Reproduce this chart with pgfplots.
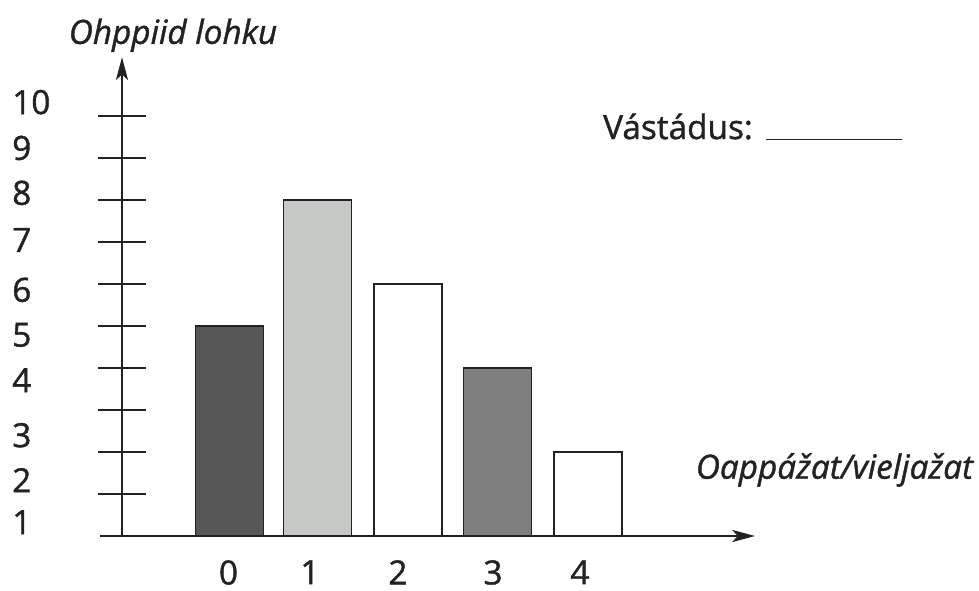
\documentclass[border=0pt]{standalone}
\usepackage{pgfplots}
\pgfplotsset{compat=1.18}
\usetikzlibrary{arrows.meta}
\usepackage{fontspec}
\setmainfont{Open Sans}[UprightFeatures={FakeBold=1.2}, ItalicFeatures={FakeBold=1.2}]
\definecolor{ink}{HTML}{222222}
\definecolor{barA}{HTML}{575757}
\definecolor{barB}{HTML}{C6C8C6}
\definecolor{barC}{HTML}{7E7E7E}
\tikzset{ynum/.style={anchor=west, inner sep=0pt, text=ink, font=\fontsize{25}{29}\selectfont}}
\begin{document}
\begin{tikzpicture}
\begin{axis}[
  x=67.125pt, y=31.5pt,
  xmin=-0.246, xmax=7.073, ymin=0, ymax=11.4,
  enlargelimits=false,
  axis lines=middle,
  axis line style={line width=2pt, draw=ink, -{Stealth[length=17pt,width=9pt,inset=4pt]}},
  clip=false,
  font=\fontsize{25}{29}\selectfont,
  xtick={1.19,2.10,3.083,4.145,5.117},
  xticklabels={0,1,2,3,4},
  x tick style={draw=none},
  xticklabel style={text=ink, inner sep=0pt, text depth=0pt, yshift=0pt, font=\fontsize{25}{29}\selectfont},
  ytick={1,2,3,4,5,6,7,8,9,10},
  yticklabels={},
  y tick style={line width=1.6pt, draw=ink},
  major tick length=36pt,
  tick align=center,
  xlabel={\itshape Oappážat/vieljažat},
  ylabel={\itshape Ohppiid lohku},
  xlabel style={at={(axis description cs:1.1213,0.138)}, anchor=center, text=ink, font=\fontsize{25}{29}\selectfont},
  ylabel style={at={(axis description cs:0.1115,1.046)}, anchor=center, rotate=0, text=ink, font=\fontsize{25}{29}\selectfont},
]
\addplot[ybar, bar width=51pt, bar shift=0pt, fill=barA, draw=ink, line width=1.2pt] coordinates {(1.201,5)};
\addplot[ybar, bar width=51pt, bar shift=0pt, fill=barB, draw=ink, line width=1.2pt] coordinates {(2.184,8)};
\addplot[ybar, bar width=51pt, bar shift=0pt, fill=white, draw=ink, line width=1.2pt] coordinates {(3.196,6)};
\addplot[ybar, bar width=51pt, bar shift=0pt, fill=barC, draw=ink, line width=1.2pt] coordinates {(4.196,4)};
\addplot[ybar, bar width=51pt, bar shift=0pt, fill=white, draw=ink, line width=1.2pt] coordinates {(5.207,2)};
% y axis numbers (set below their ticks, as in the original)
\node[ynum] at (axis cs:-1.229,10.33) {10};
\node[ynum] at (axis cs:-1.229,9.24) {9};
\node[ynum] at (axis cs:-1.229,8.17) {8};
\node[ynum] at (axis cs:-1.229,7.05) {7};
\node[ynum] at (axis cs:-1.229,5.86) {6};
\node[ynum] at (axis cs:-1.229,4.79) {5};
\node[ynum] at (axis cs:-1.229,3.71) {4};
\node[ynum] at (axis cs:-1.229,2.40) {3};
\node[ynum] at (axis cs:-1.229,1.33) {2};
\node[ynum] at (axis cs:-1.229,0.33) {1};
\node[ynum] at (axis cs:5.374,9.74) {Vástádus:\hspace{10pt}\rule[-1pt]{102pt}{1.3pt}};
% page frame (invisible)
\path (axis cs:-1.3631,-1.2857) rectangle (axis cs:9.5754,12.762);
\end{axis}
\end{tikzpicture}
\end{document}
